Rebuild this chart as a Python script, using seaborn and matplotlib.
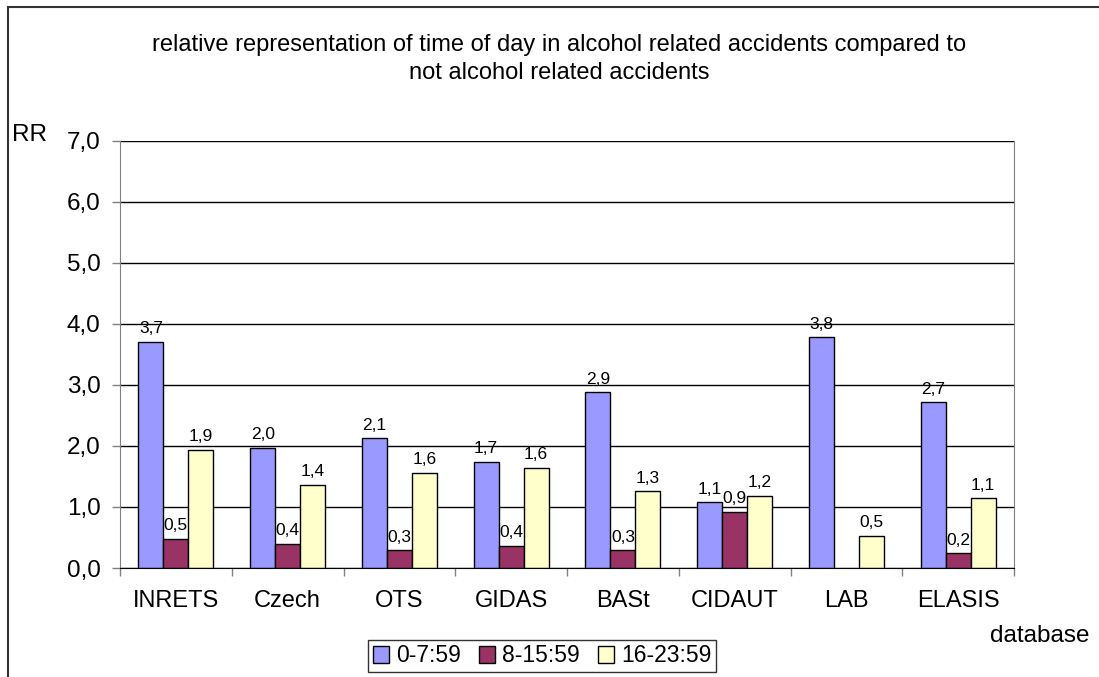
import pandas as pd
import numpy as np
import matplotlib.pyplot as plt
import matplotlib.patches as mpatches
import seaborn as sns

# values (RR per database and time of day)
databases = ['INRETS', 'Czech', 'OTS', 'GIDAS', 'BASt', 'CIDAUT', 'LAB', 'ELASIS']
periods = ['0-7:59', '8-15:59', '16-23:59']
rr_night = [3.71, 1.97, 2.13, 1.74, 2.88, 1.08, 3.78, 2.72]
rr_day = [0.48, 0.40, 0.29, 0.36, 0.29, 0.92, np.nan, 0.24]
rr_evening = [1.94, 1.36, 1.56, 1.64, 1.26, 1.18, 0.53, 1.14]
colors = ['#9999FF', '#993366', '#FFFFCC']

df = pd.DataFrame({
    'database': databases * 3,
    'period': [p for p in periods for _ in databases],
    'RR': rr_night + rr_day + rr_evening,
}).dropna()

sns.set_style('white')
plt.rcParams['font.family'] = ['Liberation Sans', 'DejaVu Sans']
plt.rcParams['text.color'] = 'black'
plt.rcParams['xtick.labelcolor'] = 'black'
plt.rcParams['ytick.labelcolor'] = 'black'

fig = plt.figure(figsize=(10.99, 6.77), dpi=100)
ax = fig.add_axes([120 / 1099, 1 - 568 / 677, 894 / 1099, 427 / 677])

sns.barplot(data=df, x='database', y='RR', hue='period', order=databases,
            hue_order=periods, palette=colors, saturation=1, width=0.67,
            gap=0, edgecolor='black', linewidth=1, errorbar=None, ax=ax,
            legend=False)

for cont in ax.containers:
    ax.bar_label(cont, fmt=lambda v: f'{v:.1f}'.replace('.', ','),
                 padding=4, fontsize=12.5, color='black')

ax.set_ylim(0, 7)
ax.set_xlim(-0.5, 7.5)
ax.set_yticks(range(8))
ax.set_yticklabels([f'{v:.1f}'.replace('.', ',') for v in range(8)], fontsize=17.5)
ax.yaxis.grid(True, color='black', linewidth=1)
ax.set_axisbelow(True)
ax.tick_params(axis='y', left=True, length=6, width=1, color='#808080', pad=8,
               labelcolor='black')
ax.tick_params(axis='x', which='major', length=0, pad=16, labelsize=17,
               labelcolor='black')
ax.set_xticks(np.arange(-0.5, 8, 1), minor=True)
ax.tick_params(axis='x', which='minor', bottom=True, length=6, width=1,
               color='#808080')
ax.set_xlabel('')
ax.set_ylabel('')
ax.spines['top'].set_visible(False)
for s in ['left', 'right']:
    ax.spines[s].set_color('#808080')
ax.spines['bottom'].set_color('black')

fig.text(559 / 1099, 1 - 59 / 677,
         'relative representation of time of day in alcohol related accidents compared to\nnot alcohol related accidents',
         ha='center', va='center', fontsize=17, linespacing=1.3)
fig.text(12 / 1099, 1 - 135 / 677, 'RR', fontsize=17.5, va='center')
fig.text(990 / 1099, 1 - 636 / 677, 'database', fontsize=17.5, va='center')

handles = [mpatches.Patch(facecolor=c, edgecolor='black', linewidth=1)
           for c in colors]
leg = fig.legend(handles, periods, loc='center', ncol=3,
                 bbox_to_anchor=(542 / 1099, 1 - 656 / 677), fontsize=16.5,
                 frameon=True, fancybox=False, handlelength=0.7,
                 handleheight=0.7, handletextpad=0.3, columnspacing=0.8,
                 borderpad=0.2, borderaxespad=0)
leg.get_frame().set_edgecolor('black')
leg.get_frame().set_linewidth(1)

# outer frame of the chart area
fig.add_artist(mpatches.Rectangle((8 / 1099, -0.2), 1.2, 1.2 - 7 / 677,
                                  transform=fig.transFigure, fill=False,
                                  edgecolor='#333333', linewidth=1.5))

fig.savefig('out.png', dpi=100)
